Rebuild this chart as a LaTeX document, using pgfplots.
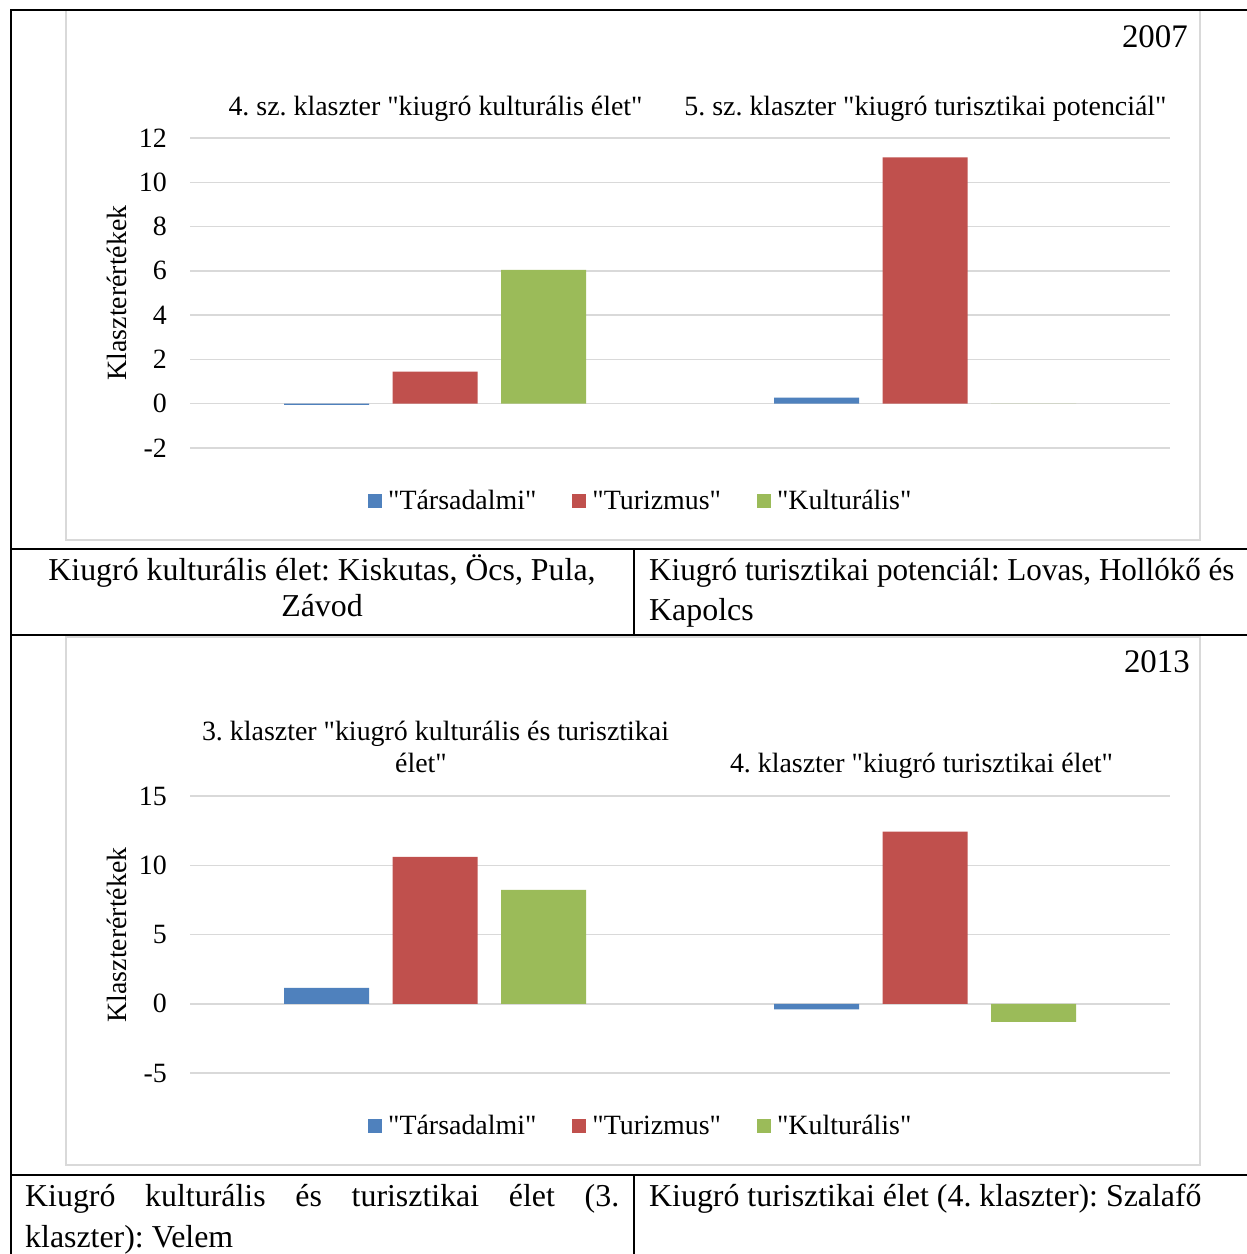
\documentclass[border=0pt]{standalone}
\usepackage{fontspec}
\setmainfont{Liberation Serif}[Ligatures=TeXOff]
\usepackage{pgfplots}
\pgfplotsset{compat=1.18}
\frenchspacing

\definecolor{cblue}{HTML}{4F81BD}
\definecolor{cred}{HTML}{C0504D}
\definecolor{cgreen}{HTML}{9BBB59}
\definecolor{gridgray}{HTML}{D9D9D9}

\newcommand{\cf}{\fontsize{28}{32}\selectfont}
\newcommand{\tf}{\fontsize{32}{36}\selectfont}

\pgfplotsset{
  klaszter/.style={
    scale only axis, width=980bp,
    xmin=-0.5, xmax=1.5,
    ybar=23.5bp, bar width=85bp,
    xtick=\empty,
    ymajorgrids, grid style={draw=gridgray, line width=1.5bp},
    axis line style={draw=none}, major tick length=0pt,
    tick label style={font=\cf},
    yticklabel style={inner sep=0pt, xshift=-23bp},
    /pgf/number format/assume math mode=true,
    legend columns=3,
    legend cell align=left,
    legend style={draw=none, fill=none, font=\cf, inner sep=0pt, anchor=center,
      /tikz/every odd column/.style={column sep=4bp},
      /tikz/every even column/.style={column sep=34bp}},
    legend image code/.code={\fill[##1] (0bp,-7bp) rectangle (14bp,7bp);},
  },
}

\begin{document}
\begin{tikzpicture}
\fill[white] (0,0) rectangle (1247bp,-1254bp);
\path[use as bounding box] (0,0) rectangle (1247bp,-1254bp);

% chart frames
\draw[gridgray, line width=1.5bp] (66bp,-10bp) rectangle (1200bp,-540bp);
\draw[gridgray, line width=1.5bp] (66bp,-637bp) rectangle (1200bp,-1165bp);

% 2007
\begin{axis}[klaszter, at={(190bp,-448bp)}, anchor=south west,
  height=310bp, ymin=-2, ymax=12, ytick={-2,0,...,12},
  legend style={at={(0.46,-0.171)}}]
\addplot[fill=cblue, draw=none] coordinates {(0,-0.05) (1,0.27)};
\addplot[fill=cred, draw=none] coordinates {(0,1.45) (1,11.12)};
\addplot[fill=cgreen, draw=none] coordinates {(0,6.05) (1,0)};
\addlegendentry{"Társadalmi"}
\addlegendentry{"Turizmus"}
\addlegendentry{"Kulturális"}
\end{axis}

% 2013
\begin{axis}[klaszter, at={(190bp,-1073bp)}, anchor=south west,
  height=277bp, ymin=-5, ymax=15, ytick={-5,0,...,15},
  legend style={at={(0.46,-0.191)}}]
\addplot[fill=cblue, draw=none] coordinates {(0,1.15) (1,-0.4)};
\addplot[fill=cred, draw=none] coordinates {(0,10.6) (1,12.42)};
\addplot[fill=cgreen, draw=none] coordinates {(0,8.23) (1,-1.3)};
\addlegendentry{"Társadalmi"}
\addlegendentry{"Turizmus"}
\addlegendentry{"Kulturális"}
\end{axis}

\begin{scope}[x=1bp, y=-1bp]
% chart texts
\node[font=\fontsize{33}{36}\selectfont, anchor=base east, inner sep=0pt] at (1188,47) {2007};
\node[font=\cf, anchor=base] at (435.5,115) {4. sz. klaszter "kiugró kulturális élet"};
\node[font=\cf, anchor=base] at (925.5,115) {5. sz. klaszter "kiugró turisztikai potenciál"};
\node[font=\cf, rotate=90] at (117,293) {Klaszterértékek};

\node[font=\fontsize{33}{36}\selectfont, anchor=base east, inner sep=0pt] at (1190,672) {2013};
\node[font=\cf, anchor=base] at (435.5,740) {3. klaszter "kiugró kulturális és turisztikai};
\node[font=\cf, anchor=base] at (421,772) {élet"};
\node[font=\cf, anchor=base] at (921.5,772) {4. klaszter "kiugró turisztikai élet"};
\node[font=\cf, rotate=90] at (117,935) {Klaszterértékek};

% table lines
\draw[black, line width=2bp] (11,10) -- (1247,10);
\draw[black, line width=2bp] (11,9) -- (11,1254);
\draw[black, line width=2bp] (11,549) -- (1247,549);
\draw[black, line width=2bp] (11,635) -- (1247,635);
\draw[black, line width=2bp] (11,1175) -- (1247,1175);
\draw[black, line width=1.5bp] (634,549) -- (634,635);
\draw[black, line width=1.5bp] (634,1175) -- (634,1254);

% table texts
\node[font=\tf, anchor=base, inner sep=0pt] at (322,580) {Kiugró kulturális élet: Kiskutas, Öcs, Pula,};
\node[font=\tf, anchor=base, inner sep=0pt] at (322,616) {Závod};
\node[font=\tf, anchor=base west, inner sep=0pt] at (649,580) {\scalebox{0.975}[1]{Kiugró turisztikai potenciál: Lovas, Hollókő és}};
\node[font=\tf, anchor=base west, inner sep=0pt] at (649,620) {Kapolcs};
\node[font=\tf, anchor=base west, inner sep=0pt] at (25,1206) {\makebox[594bp][s]{Kiugró kulturális és turisztikai élet (3.}};
\node[font=\tf, anchor=base west, inner sep=0pt] at (25,1247) {klaszter): Velem};
\node[font=\tf, anchor=base west, inner sep=0pt] at (649,1206) {Kiugró turisztikai élet (4. klaszter): Szalafő};
\end{scope}
\end{tikzpicture}
\end{document}
